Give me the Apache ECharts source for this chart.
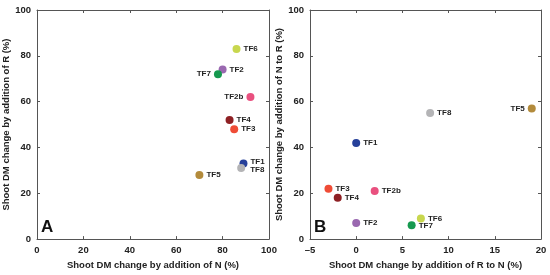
<!DOCTYPE html>
<html>
<head>
<meta charset="utf-8">
<script src="https://cdn.jsdelivr.net/npm/echarts@6/dist/echarts.min.js"></script>
<style>
html,body{margin:0;padding:0;background:#fff;}
#main{width:550px;height:275px;}
</style>
</head>
<body>
<div id="main"></div>
<script>
// strains and their colours
var names = ['TF1', 'TF2', 'TF2b', 'TF3', 'TF4', 'TF5', 'TF6', 'TF7', 'TF8'];
var colors = ['#26409a', '#9a68b0', '#e9507f', '#ef4c36', '#8e2024', '#b38b3c', '#c8d74e', '#16994f', '#b4b4b6'];

// panel A: N effect (x) vs R effect (y)
var aX = [89, 80, 92, 85, 83, 70, 86, 78, 88];
var aY = [33, 74, 62, 48, 52, 28, 83, 72, 31];
var aLabelLeft = ['TF2b', 'TF7'];

// panel B: R to N (x) vs N to R (y)
var bX = [0, 0, 2, -3, -2, 19, 7, 6, 8];
var bY = [42, 7, 21, 22, 18, 57, 9, 6, 55];
var bLabelLeft = ['TF5'];

var txt = '#222';
var font = 'Liberation Sans, Arial, sans-serif';

function pts(xs, ys, left, nudge) {
  var out = [];
  for (var i = 0; i < names.length; i++) {
    var p = {
      name: names[i],
      value: [xs[i], ys[i]],
      itemStyle: {color: colors[i], opacity: 1},
      label: {position: left.indexOf(names[i]) >= 0 ? 'left' : 'right'}
    };
    if (nudge[names[i]]) p.label.offset = nudge[names[i]];
    out.push(p);
  }
  return out;
}

function mainX(idx, min, max, itv, name) {
  return {
    gridIndex: idx, type: 'value', min: min, max: max, interval: itv,
    name: name, nameLocation: 'middle', nameGap: 18,
    nameTextStyle: {color: txt, fontSize: 9.5, fontWeight: 'bold', fontFamily: font},
    axisLine: {onZero: false, lineStyle: {color: '#555', width: 1}},
    axisTick: {inside: true, length: 3, lineStyle: {color: '#555'}},
    axisLabel: {color: txt, fontSize: 9.5, fontWeight: 'bold', fontFamily: font, margin: 6,
      formatter: function (v) { return v < 0 ? '\u2013' + (-v) : '' + v; }},
    splitLine: {show: false}
  };
}
function mainY(idx, name) {
  return {
    gridIndex: idx, type: 'value', min: 0, max: 100, interval: 20,
    name: name, nameLocation: 'middle', nameGap: 20,
    nameTextStyle: {color: txt, fontSize: 9.5, fontWeight: 'bold', fontFamily: font},
    axisLine: {onZero: false, lineStyle: {color: '#555', width: 1}},
    axisTick: {inside: true, length: 3, lineStyle: {color: '#555'}},
    axisLabel: {color: txt, fontSize: 9.5, fontWeight: 'bold', fontFamily: font, margin: 6},
    splitLine: {show: false}
  };
}
function frameX(idx, min, max, itv) {
  return {gridIndex: idx, type: 'value', position: 'top', min: min, max: max, interval: itv,
    axisLine: {onZero: false, lineStyle: {color: '#555'}}, axisTick: {inside: true, length: 3, lineStyle: {color: '#555'}},
    axisLabel: {show: false}, splitLine: {show: false}};
}
function frameY(idx) {
  return {gridIndex: idx, type: 'value', position: 'right', min: 0, max: 100, interval: 20,
    axisLine: {onZero: false, lineStyle: {color: '#555'}}, axisTick: {inside: true, length: 3, lineStyle: {color: '#555'}},
    axisLabel: {show: false}, splitLine: {show: false}};
}

var lbl = {show: true, formatter: '{b}', color: txt, fontSize: 8, fontWeight: 'bold', fontFamily: font, distance: 3};

var chart = echarts.init(document.getElementById('main'));
chart.setOption({
  backgroundColor: '#fff',
  animation: false,
  grid: [
    {left: 37, right: 281, top: 10, bottom: 34},
    {left: 310, right: 9, top: 10, bottom: 34}
  ],
  title: [
    {text: 'A', left: 41, top: 219, textStyle: {fontSize: 17, fontWeight: 'bold', color: '#111', fontFamily: font}, padding: 0},
    {text: 'B', left: 314, top: 219, textStyle: {fontSize: 17, fontWeight: 'bold', color: '#111', fontFamily: font}, padding: 0}
  ],
  xAxis: [
    mainX(0, 0, 100, 20, 'Shoot DM change by addition of N (%)'),
    mainX(1, -5, 20, 5, 'Shoot DM change by addition of R to N (%)'),
    frameX(0, 0, 100, 20),
    frameX(1, -5, 20, 5)
  ],
  yAxis: [
    mainY(0, 'Shoot DM change by addition of R (%)'),
    mainY(1, 'Shoot DM change by addition of N to R (%)'),
    frameY(0),
    frameY(1)
  ],
  series: [
    {type: 'scatter', xAxisIndex: 0, yAxisIndex: 0, symbolSize: 8,
      data: pts(aX, aY, aLabelLeft, {TF1: [0, -2], TF8: [2, 2]}), label: lbl},
    {type: 'scatter', xAxisIndex: 1, yAxisIndex: 1, symbolSize: 8,
      data: pts(bX, bY, bLabelLeft, {}), label: lbl}
  ]
});
</script>
</body>
</html>
